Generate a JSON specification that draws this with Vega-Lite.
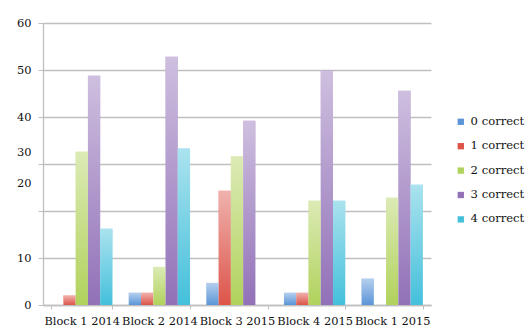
{
  "$schema": "https://vega.github.io/schema/vega-lite/v6.json",
  "width": 388,
  "height": 282,
  "autosize": {"type": "none"},
  "padding": {"left": 43, "top": 23, "right": 97, "bottom": 31},
  "background": "white",
  "config": {
    "view": {"stroke": null},
    "font": "DejaVu Serif",
    "axis": {"labelFont": "DejaVu Serif", "labelColor": "#111111", "labelFontSize": 11.4},
    "legend": {"labelFont": "DejaVu Serif", "labelColor": "#111111", "labelFontSize": 11.6}
  },
  "data": {
    "values": [
      {"block": "Block 1 2014", "series": "1 correct", "value": 2.0},
      {"block": "Block 1 2014", "series": "2 correct", "value": 32.6},
      {"block": "Block 1 2014", "series": "3 correct", "value": 48.8},
      {"block": "Block 1 2014", "series": "4 correct", "value": 16.2},
      {"block": "Block 2 2014", "series": "0 correct", "value": 2.6},
      {"block": "Block 2 2014", "series": "1 correct", "value": 2.6},
      {"block": "Block 2 2014", "series": "2 correct", "value": 8.1},
      {"block": "Block 2 2014", "series": "3 correct", "value": 52.8},
      {"block": "Block 2 2014", "series": "4 correct", "value": 33.3},
      {"block": "Block 3 2015", "series": "0 correct", "value": 4.7},
      {"block": "Block 3 2015", "series": "1 correct", "value": 24.3},
      {"block": "Block 3 2015", "series": "2 correct", "value": 31.6},
      {"block": "Block 3 2015", "series": "3 correct", "value": 39.2},
      {"block": "Block 4 2015", "series": "0 correct", "value": 2.6},
      {"block": "Block 4 2015", "series": "1 correct", "value": 2.6},
      {"block": "Block 4 2015", "series": "2 correct", "value": 22.2},
      {"block": "Block 4 2015", "series": "3 correct", "value": 49.9},
      {"block": "Block 4 2015", "series": "4 correct", "value": 22.2},
      {"block": "Block 1 2015", "series": "0 correct", "value": 5.6},
      {"block": "Block 1 2015", "series": "2 correct", "value": 22.8},
      {"block": "Block 1 2015", "series": "3 correct", "value": 45.6},
      {"block": "Block 1 2015", "series": "4 correct", "value": 25.6}
    ]
  },
  "encoding": {
    "x": {
      "field": "block",
      "type": "nominal",
      "sort": ["Block 1 2014", "Block 2 2014", "Block 3 2015", "Block 4 2015", "Block 1 2015"],
      "scale": {"paddingInner": 0.21, "paddingOuter": 0.105},
      "axis": {
        "title": null,
        "labelAngle": 0,
        "tickBand": "extent",
        "tickSize": 4,
        "tickColor": "#bfbfbf",
        "domainColor": "#bfbfbf",
        "domainWidth": 1.3,
        "labelPadding": 6,
        "grid": false
      }
    },
    "xOffset": {
      "field": "series",
      "type": "nominal",
      "scale": {"domain": ["0 correct", "1 correct", "2 correct", "3 correct", "4 correct"], "paddingInner": 0, "paddingOuter": 0}
    },
    "y": {
      "field": "value",
      "type": "quantitative",
      "scale": {"domain": [0, 60], "nice": false},
      "axis": {
        "title": null,
        "values": [0, 10, 20, 30, 40, 50, 60],
        "grid": true,
        "gridColor": "#bfbfbf",
        "gridWidth": 1.3,
        "domainColor": "#bfbfbf",
        "domainWidth": 1.3,
        "tickColor": "#bfbfbf",
        "tickSize": 5,
        "labelPadding": 7,
        "labelOffset": {
          "condition": [
            {"test": "datum.value == 20", "value": -28},
            {"test": "datum.value == 30", "value": -12}
          ],
          "value": 0
        }
      }
    }
  },
  "layer": [
    {
      "mark": {"type": "bar"},
      "encoding": {
        "color": {
          "field": "series",
          "type": "nominal",
          "scale": {
            "domain": ["0 correct", "1 correct", "2 correct", "3 correct", "4 correct"],
            "range": ["#5b95d8", "#dd5449", "#b1d25c", "#9271b8", "#44c0db"]
          },
          "legend": {
            "title": null,
            "orient": "none",
            "legendX": 412,
            "legendY": 93,
            "symbolType": "square",
            "symbolSize": 40,
            "symbolStrokeWidth": 0,
            "rowPadding": 11.4,
            "labelOffset": 4,
            "padding": 0
          }
        }
      }
    },
    {
      "mark": {
        "type": "bar",
        "color": {
          "gradient": "linear",
          "x1": 0, "y1": 0, "x2": 0, "y2": 1,
          "stops": [
            {"offset": 0, "color": "rgba(255,255,255,0.55)"},
            {"offset": 1, "color": "rgba(255,255,255,0)"}
          ]
        }
      }
    }
  ]
}
